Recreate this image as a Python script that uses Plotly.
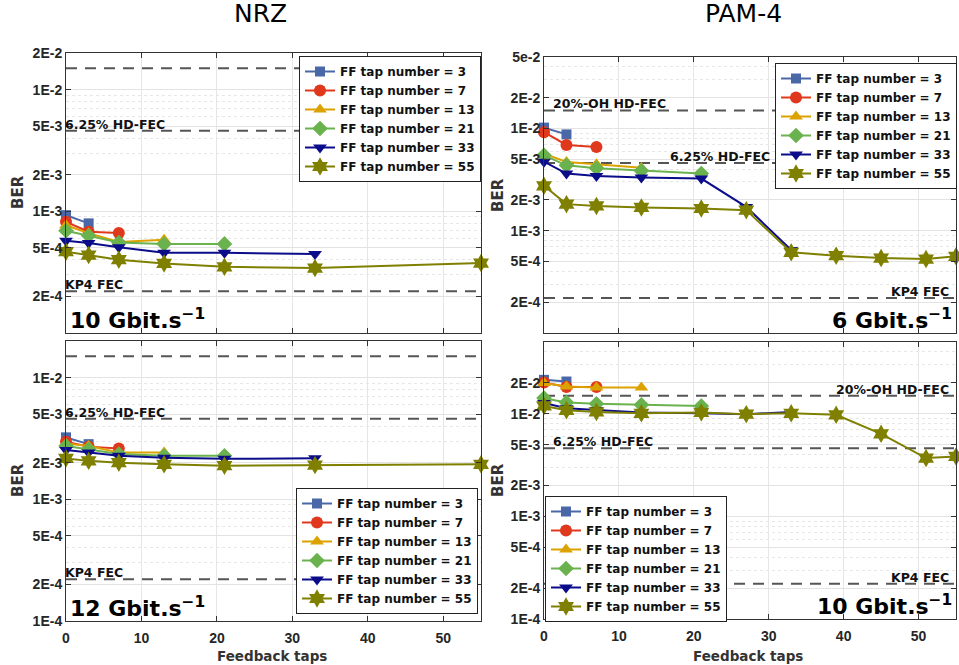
import numpy as np
import plotly.graph_objects as go

# ---------------- data ----------------
series_names = ["FF tap number = 3", "FF tap number = 7", "FF tap number = 13",
                "FF tap number = 21", "FF tap number = 33", "FF tap number = 55"]

# NRZ 10 Gbit/s
nrz10_x = [[0, 3], [0, 3, 7], [0, 3, 7, 13], [0, 3, 7, 13, 21],
           [0, 3, 7, 13, 21, 33], [0, 3, 7, 13, 21, 33, 55]]
nrz10_y = [[9.3e-4, 7.96e-4],
           [8.2e-4, 6.8e-4, 6.64e-4],
           [7.7e-4, 6.6e-4, 5.6e-4, 5.85e-4],
           [6.93e-4, 6.3e-4, 5.55e-4, 5.39e-4, 5.4e-4],
           [5.74e-4, 5.5e-4, 5.06e-4, 4.57e-4, 4.57e-4, 4.45e-4],
           [4.66e-4, 4.37e-4, 4.0e-4, 3.73e-4, 3.5e-4, 3.42e-4, 3.76e-4]]

# NRZ 12 Gbit/s
nrz12_x = nrz10_x
nrz12_y = [[3.23e-3, 2.84e-3],
           [2.97e-3, 2.71e-3, 2.62e-3],
           [2.88e-3, 2.74e-3, 2.43e-3, 2.43e-3],
           [2.74e-3, 2.58e-3, 2.36e-3, 2.28e-3, 2.28e-3],
           [2.54e-3, 2.43e-3, 2.28e-3, 2.2e-3, 2.15e-3, 2.17e-3],
           [2.17e-3, 2.07e-3, 2.0e-3, 1.94e-3, 1.89e-3, 1.91e-3, 1.94e-3]]

# PAM-4 6 Gbit/s
pam6_x = [[0, 3], [0, 3, 7], [0, 3, 7, 13], [0, 3, 7, 13, 21],
          [0, 3, 7, 13, 21, 27, 33], [0, 3, 7, 13, 21, 27, 33, 39, 45, 51, 55]]
pam6_y = [[1.02e-2, 8.75e-3],
          [9.2e-3, 6.9e-3, 6.58e-3],
          [5.66e-3, 4.71e-3, 4.46e-3, 4.14e-3],
          [5.46e-3, 4.36e-3, 4.08e-3, 3.85e-3, 3.62e-3],
          [4.73e-3, 3.62e-3, 3.43e-3, 3.31e-3, 3.24e-3, 1.71e-3, 6.48e-4],
          [2.75e-3, 1.82e-3, 1.75e-3, 1.69e-3, 1.65e-3, 1.59e-3, 6.15e-4, 5.7e-4, 5.41e-4, 5.28e-4, 5.62e-4]]

# PAM-4 10 Gbit/s
pam10_x = pam6_x
pam10_y = [[2.14e-2, 2.06e-2],
           [2.02e-2, 1.82e-2, 1.82e-2],
           [1.99e-2, 1.84e-2, 1.8e-2, 1.8e-2],
           [1.42e-2, 1.29e-2, 1.25e-2, 1.22e-2, 1.19e-2],
           [1.27e-2, 1.13e-2, 1.09e-2, 1.03e-2, 1.01e-2, 9.9e-3, 1.04e-2],
           [1.19e-2, 1.08e-2, 1.04e-2, 1.01e-2, 1.03e-2, 9.9e-3, 1.01e-2, 9.76e-3, 6.37e-3, 3.7e-3, 3.84e-3]]

thr_20oh = 1.5e-2
thr_625 = 4.6e-3
thr_kp4 = 2.2e-4

ytick_vals = [1e-4, 2e-4, 5e-4, 1e-3, 2e-3, 5e-3, 1e-2, 2e-2, 5e-2]
ytick_text_tl = ["", "2E-4", "5E-4", "1E-3", "2E-3", "5E-3", "1E-2", "2E-2", ""]
ytick_text_bl = ["1E-4", "2E-4", "5E-4", "1E-3", "2E-3", "5E-3", "1E-2", "", ""]
ytick_text_tr = ["", "2E-4", "5E-4", "1E-3", "2E-3", "5E-3", "1E-2", "2E-2", "5e-2"]
ytick_text_br = ["1E-4", "2E-4", "5E-4", "1E-3", "2E-3", "5E-3", "1E-2", "2E-2", ""]
xtick_vals = [0, 10, 20, 30, 40, 50]

# ---------------- style ----------------
colors = ["#4a68a8", "#e0381c", "#dca200", "#6ab24e", "#0a0c8a", "#7f7f00"]
symbols = ["square", "circle", "triangle-up", "diamond", "triangle-down", "hexagram"]
msizes = [10, 12, 12, 12, 12, 14]

W, H = 959, 665
def fx(p): return p / W
def fy(p): return 1 - p / H

panels = [
    # (suffix, xdom px, ydom px (top,bottom), data x, data y, ytext, ymax, legend box (left, top))
    ("", (66, 481), (53, 333), nrz10_x, nrz10_y, ytick_text_tl, 2e-2, (299, 56)),
    ("2", (544, 956), (57, 333), pam6_x, pam6_y, ytick_text_tr, 5e-2, (775, 63)),
    ("3", (66, 481), (341, 621), nrz12_x, nrz12_y, ytick_text_bl, 2e-2, (296, 488)),
    ("4", (544, 956), (342, 619), pam10_x, pam10_y, ytick_text_br, 5e-2, (545, 496)),
]

fig = go.Figure()
tick_font = dict(family="Liberation Sans", size=14, color="#262626", weight="bold")
lab_font = dict(family="DejaVu Sans", size=12.5, color="#111111", weight="bold")

layout = dict(width=W, height=H,
              margin=dict(l=0, r=0, t=0, b=0, autoexpand=False),
              plot_bgcolor="white", paper_bgcolor="white", showlegend=True)
annotations = []

for i, (suf, xd, yd, dx, dy, ytext, ymax, lg) in enumerate(panels):
    xa = "x" + suf
    ya = "y" + suf
    lgname = "legend" + suf
    # threshold lines
    thrs = [thr_20oh, thr_625, thr_kp4]
    for t in thrs:
        fig.add_trace(go.Scatter(x=[0, 55], y=[t, t], mode="lines", xaxis=xa, yaxis=ya,
                                 line=dict(color="#555555", width=2, dash="11px,8px"),
                                 showlegend=False, hoverinfo="skip"))
    for k in range(6):
        fig.add_trace(go.Scatter(
            x=dx[k], y=dy[k], mode="lines+markers", name=series_names[k],
            xaxis=xa, yaxis=ya, legend=lgname, cliponaxis=False,
            line=dict(color=colors[k], width=2),
            marker=dict(symbol=symbols[k], size=msizes[k], color=colors[k],
                        line=dict(width=0))))
    bottom = i >= 2
    layout["xaxis" + suf] = dict(
        domain=[fx(xd[0]), fx(xd[1])], anchor=ya, range=[0, 55],
        tickvals=xtick_vals, showticklabels=bottom, tickfont=tick_font,
        ticks="inside", ticklen=5, tickcolor="#333", mirror="ticks",
        ticklabelstandoff=4,
        showline=True, linecolor="#333", linewidth=1,
        showgrid=True, gridcolor="#e6e6e6", gridwidth=1, zeroline=False)
    layout["yaxis" + suf] = dict(
        domain=[fy(yd[1]), fy(yd[0])], anchor=xa, type="log",
        range=[-4, np.log10(ymax)], tickvals=ytick_vals, ticktext=ytext,
        tickfont=tick_font, ticks="inside", ticklen=5, tickcolor="#333",
        mirror="ticks", showline=True, linecolor="#333", linewidth=1,
        showgrid=True, gridcolor="#e3e3e3", gridwidth=1, zeroline=False,
        minor=dict(dtick="D1", showgrid=True, gridcolor="#e6e6e6", griddash="dot",
                   ticks="", gridwidth=1))
    layout[lgname] = dict(x=fx(lg[0]), y=fy(lg[1]), xanchor="left", yanchor="top",
                          xref="paper", yref="paper",
                          bgcolor="white", bordercolor="#222", borderwidth=1,
                          font=dict(family="DejaVu Sans", size=12, color="#111", weight="bold"),
                          tracegroupgap=0, itemwidth=30)

# threshold labels (x in data units, y in log10 units)
thr_labels = [
    ("", "6.25% HD-FEC", 0, "left", thr_625),
    ("", "KP4 FEC", 0, "left", thr_kp4),
    ("3", "6.25% HD-FEC", 0, "left", thr_625),
    ("3", "KP4 FEC", 0, "left", thr_kp4),
    ("2", "20%-OH HD-FEC", 0.9, "left", thr_20oh),
    ("2", "6.25% HD-FEC", 16.5, "left", thr_625),
    ("2", "KP4 FEC", 54.3, "right", thr_kp4),
    ("4", "20%-OH HD-FEC", 54.3, "right", thr_20oh),
    ("4", "6.25% HD-FEC", 0.9, "left", thr_625),
    ("4", "KP4 FEC", 54.3, "right", thr_kp4),
]
for suf, txt, x, anc, t in thr_labels:
    annotations.append(dict(text=txt, x=x, y=np.log10(t), xref="x" + suf, yref="y" + suf,
                            xanchor=anc, yanchor="bottom", showarrow=False, yshift=-3,
                            xshift=(-3 if x == 0 else 0), font=lab_font))

# rate labels
rate_labels = [
    ("", "10 Gbit.s<sup>−1</sup>", 0.005, "left"),
    ("2", "6 Gbit.s<sup>−1</sup>", 0.995, "right"),
    ("3", "12 Gbit.s<sup>−1</sup>", 0.005, "left"),
    ("4", "10 Gbit.s<sup>−1</sup>", 0.995, "right"),
]
for suf, txt, x, anc in rate_labels:
    annotations.append(dict(text=txt, x=x, y=0.0, xref="x" + suf + " domain",
                            yref="y" + suf + " domain", xanchor=anc, yanchor="bottom",
                            showarrow=False, yshift=-2,
                            font=dict(family="DejaVu Sans", size=22, color="black", weight="bold")))

# column titles
for txt, xc in [("NRZ", 260), ("PAM-4", 743)]:
    annotations.append(dict(text=txt, x=fx(xc), y=fy(14), xref="paper", yref="paper",
                            xanchor="center", yanchor="middle", showarrow=False,
                            font=dict(family="DejaVu Sans", size=25, color="black")))

# axis titles
for xc, yc in [(18, 192), (18, 480), (498, 195), (498, 480)]:
    annotations.append(dict(text="BER", x=fx(xc), y=fy(yc), xref="paper", yref="paper",
                            xanchor="center", yanchor="middle", textangle=-90, showarrow=False,
                            font=dict(family="DejaVu Sans", size=15, color="#333", weight="bold")))
for xc, yc in [(272, 656), (748, 656)]:
    annotations.append(dict(text="Feedback taps", x=fx(xc), y=fy(yc), xref="paper", yref="paper",
                            xanchor="center", yanchor="middle", showarrow=False,
                            font=dict(family="DejaVu Sans", size=13.5, color="#333", weight="bold")))

layout["annotations"] = annotations
fig.update_layout(**layout)
fig.write_html("out.html")
